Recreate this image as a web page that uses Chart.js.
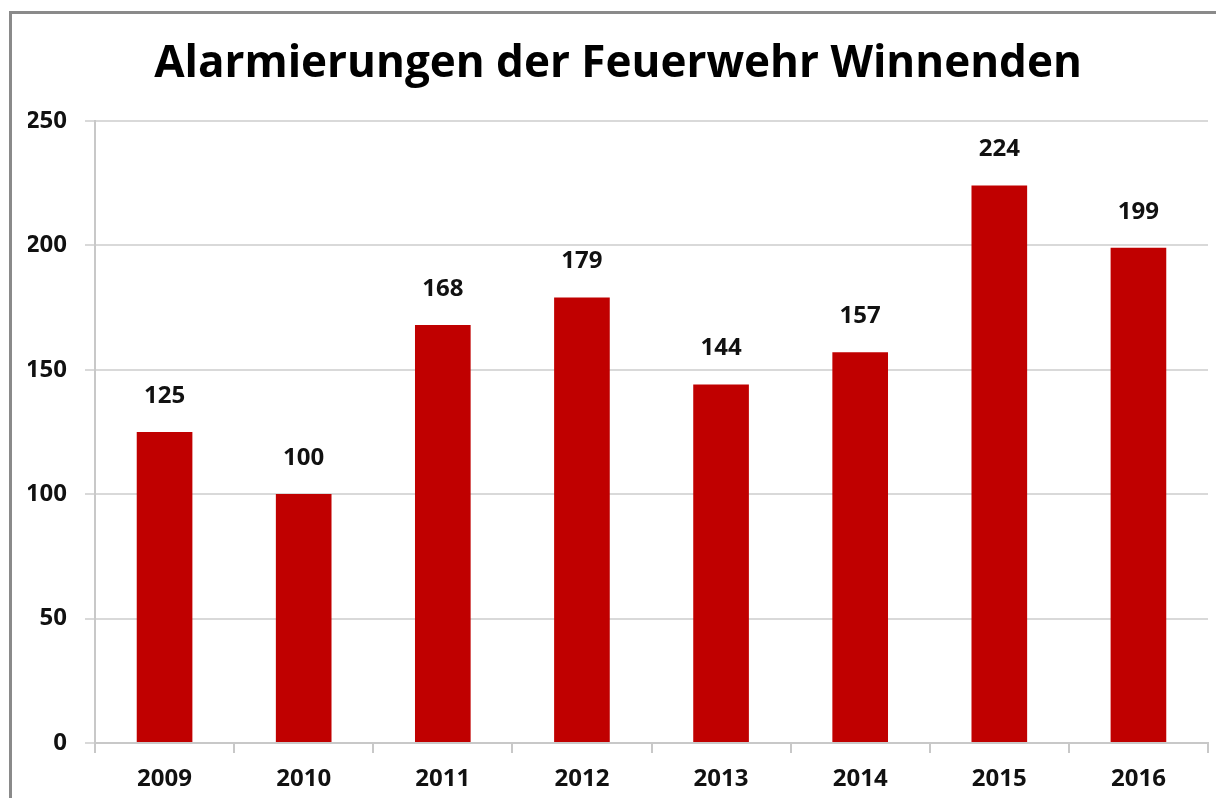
<!DOCTYPE html>
<html>
<head>
<meta charset="utf-8">
<script src="https://cdn.jsdelivr.net/npm/chart.js@4/dist/chart.umd.min.js"></script>
<style>
  html, body { margin: 0; padding: 0; background: #fff; }
  #wrap { position: relative; width: 1216px; height: 798px; overflow: hidden; }
  #frame { position: absolute; left: 9px; top: 11px; width: 1300px; height: 900px;
           border-top: 3px solid #8a8a8a; border-left: 3px solid #8a8a8a; pointer-events: none; }
</style>
</head>
<body>
<div id="wrap">
  <canvas id="myChart" width="1216" height="798"></canvas>
  <div id="frame"></div>
</div>
<script>
const years = ['2009', '2010', '2011', '2012', '2013', '2014', '2015', '2016'];
const alarms = [125, 100, 168, 179, 144, 157, 224, 199];
const yTicks = [0, 50, 100, 150, 200, 250];

const fontFamily = '"Open Sans", "Noto Sans", sans-serif';

// Werte über den Balken schreiben
const valueLabels = {
    id: 'valueLabels',
    afterDatasetsDraw(chart) {
        const ctx = chart.ctx;
        const meta = chart.getDatasetMeta(0);
        ctx.save();
        ctx.font = 'bold 24px ' + fontFamily;
        ctx.fillStyle = '#111';
        ctx.textAlign = 'center';
        ctx.textBaseline = 'middle';
        meta.data.forEach((bar, i) => {
            ctx.fillText(alarms[i], bar.x, bar.y - 36);
        });
        ctx.restore();
    }
};

const data = {
    labels: years,
    datasets: [{
        label: 'Alarmierungen',
        backgroundColor: '#c00000',
        data: alarms,
        barPercentage: 0.4,
        categoryPercentage: 1.0
    }]
};

const config = {
    type: 'bar',
    data: data,
    options: {
        responsive: false,
        animation: false,
        layout: { padding: { left: 28, right: 8, top: 0, bottom: 3 } },
        plugins: {
            legend: { display: false },
            tooltip: { enabled: false },
            title: {
                display: true,
                text: 'Alarmierungen der Feuerwehr Winnenden',
                color: '#000',
                font: { family: fontFamily, size: 44, weight: 'bold' },
                padding: { top: 38, bottom: 30 }
            }
        },
        scales: {
            x: {
                afterFit: (scale) => { scale.height = 52; },
                grid: { display: true, drawOnChartArea: false, drawTicks: true, tickLength: 10, color: '#c8c8c8', lineWidth: 2 },
                border: { display: true, color: '#c8c8c8', width: 2 },
                ticks: { color: '#111', padding: 12, font: { family: fontFamily, size: 24, weight: 'bold' } }
            },
            y: {
                min: 0,
                max: 250,
                afterBuildTicks: (scale) => { scale.ticks = yTicks.map(v => ({ value: v })); },
                afterFit: (scale) => { scale.width = 67; },
                grid: { color: '#d9d9d9', lineWidth: 2, tickLength: 10 },
                border: { display: true, color: '#c8c8c8', width: 2 },
                ticks: { color: '#111', padding: 18, font: { family: fontFamily, size: 24, weight: 'bold' } }
            }
        }
    },
    plugins: [valueLabels]
};

const myChart = new Chart(
    document.getElementById('myChart'),
    config
);
</script>
</body>
</html>
